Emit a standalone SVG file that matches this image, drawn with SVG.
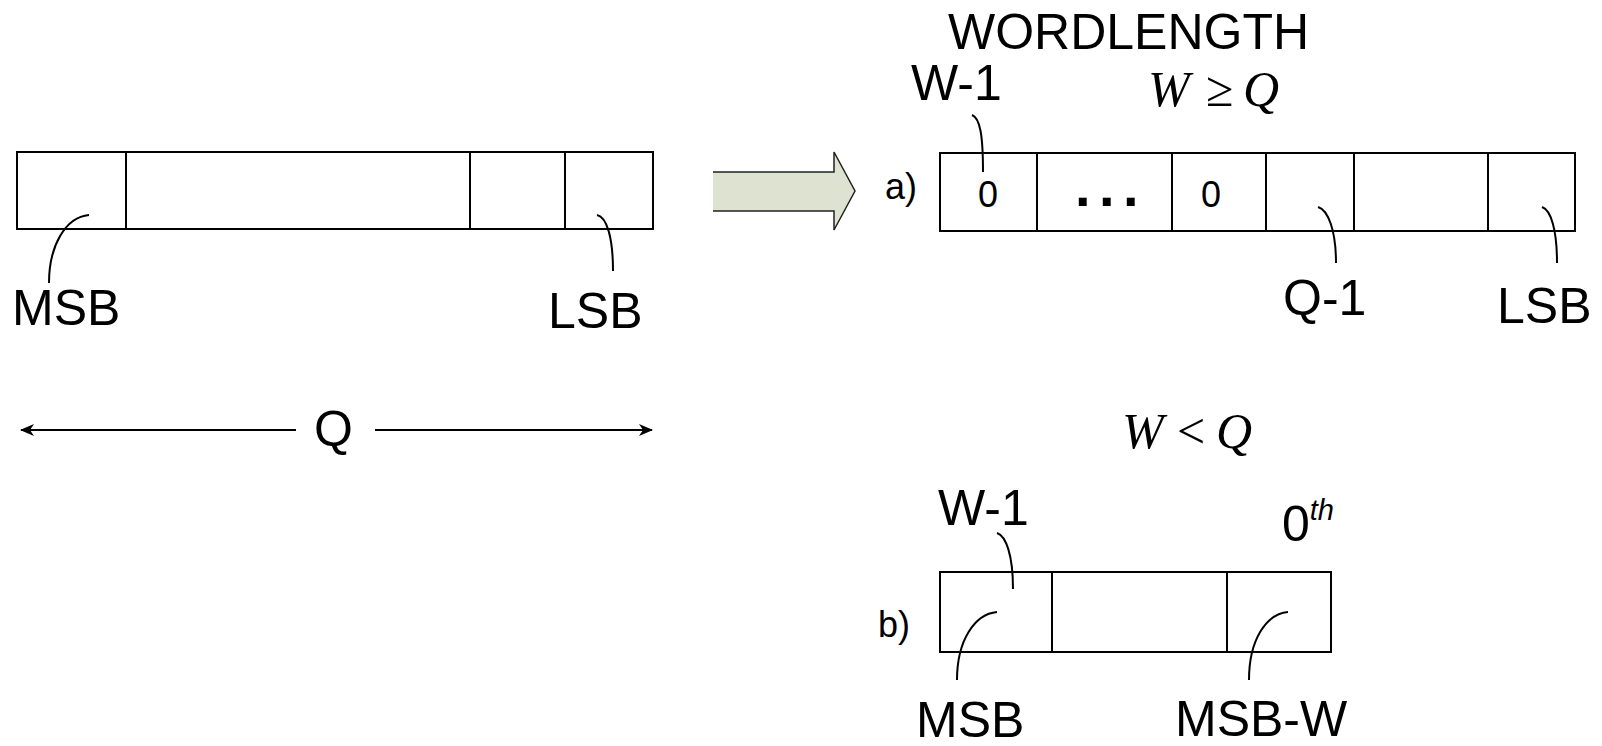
<svg xmlns="http://www.w3.org/2000/svg" width="1602" height="746" viewBox="0 0 1602 746">
<defs>
<style>
.box{fill:none;stroke:#000;stroke-width:2}
.div{stroke:#000;stroke-width:2}
.lead{fill:none;stroke:#000;stroke-width:2}
.lbl{font-family:"Liberation Sans",Arial,sans-serif;font-size:50px;fill:#000}
.sm{font-family:"Liberation Sans",Arial,sans-serif;font-size:36px;fill:#000}
.math{font-family:"Liberation Serif","Times New Roman",serif;font-style:italic;font-size:50px;fill:#000}
.mop{font-family:"Liberation Serif","Times New Roman",serif;font-size:50px;fill:#000}
</style>
<marker id="ah" viewBox="0 0 14 12" refX="13" refY="6" markerWidth="14" markerHeight="12" markerUnits="userSpaceOnUse" orient="auto">
<path d="M0,0 L14,6 L0,12 L4,6 Z" fill="#000"/>
</marker>
</defs>
<rect width="1602" height="746" fill="#fff"/>

<g id="word-q">
<rect class="box" x="17" y="152" width="636" height="77"/>
<line class="div" x1="126" y1="152" x2="126" y2="229"/>
<line class="div" x1="470" y1="152" x2="470" y2="228"/>
<line class="div" x1="565" y1="152" x2="565" y2="229"/>
</g>
<g id="label-msb-left"><text class="lbl" x="12" y="325">MSB</text></g>
<g id="label-lsb-left"><text class="lbl" x="548" y="328">LSB</text></g>
<g id="label-q"><text class="lbl" x="314" y="446">Q</text></g>

<g id="transform-arrow">
<polygon points="713,172 834,172 834,152 855,191 834,230 834,211 713,211" fill="#dee2d0"/>
<polyline points="713,172 834,172 834,152 855,191 834,230 834,211 713,211" fill="none" stroke="#222" stroke-width="1.5"/>
</g>

<g id="title"><text class="lbl" x="948" y="49">WORDLENGTH</text></g>
<g id="cond-a">
<text class="math" x="1148" y="106">W</text>
<text class="mop" x="1206" y="106">≥</text>
<text class="math" x="1243" y="106">Q</text>
</g>
<g id="label-a"><text class="sm" x="885" y="199">a)</text></g>
<g id="word-a">
<rect class="box" x="940" y="153" width="635" height="78"/>
<line class="div" x1="1037" y1="153" x2="1037" y2="231"/>
<line class="div" x1="1172" y1="153" x2="1172" y2="231"/>
<line class="div" x1="1266" y1="153" x2="1266" y2="231"/>
<line class="div" x1="1354" y1="153" x2="1354" y2="231"/>
<line class="div" x1="1488" y1="153" x2="1488" y2="231"/>
<text class="sm" x="988" y="207" text-anchor="middle">0</text>
<text style="font-family:'Liberation Sans',Arial,sans-serif;font-size:56px;font-weight:bold;letter-spacing:8.5px" x="1075" y="206">...</text>
<text class="sm" x="1211" y="207" text-anchor="middle">0</text>
</g>
<g id="label-w1-a"><text class="lbl" x="911" y="100">W-1</text></g>
<g id="label-q1"><text class="lbl" x="1283" y="315">Q-1</text></g>
<g id="label-lsb-a"><text class="lbl" x="1497" y="323">LSB</text></g>

<g id="cond-b">
<text class="math" x="1122" y="448">W</text>
<text class="mop" x="1177" y="448">&lt;</text>
<text class="math" x="1216" y="448">Q</text>
</g>
<g id="label-b"><text class="sm" x="878" y="637">b)</text></g>
<g id="word-b">
<rect class="box" x="940" y="572" width="391" height="80"/>
<line class="div" x1="1052" y1="572" x2="1052" y2="652"/>
<line class="div" x1="1227" y1="572" x2="1227" y2="652"/>
</g>
<g id="label-w1-b"><text class="lbl" x="938" y="525">W-1</text></g>
<g id="label-0th"><text class="lbl" x="1282" y="541">0<tspan style="font-style:italic;font-size:29px" dy="-21">th</tspan></text></g>
<g id="label-msb-b"><text class="lbl" x="916" y="737">MSB</text></g>
<g id="label-msbw"><text class="lbl" x="1175" y="736">MSB-W</text></g>

<g id="connectors">
<path class="lead" d="M89,215 C66,217 49,245 49,283"/>
<path class="lead" d="M597,215 C607,217 613,238 613,271"/>
<line class="lead" x1="296" y1="430" x2="21" y2="430" marker-end="url(#ah)"/>
<line class="lead" x1="375" y1="430" x2="652" y2="430" marker-end="url(#ah)"/>
<path class="lead" d="M972,115 C980,118 983,135 983,172"/>
<path class="lead" d="M1318,207 C1328,210 1336,230 1336,263"/>
<path class="lead" d="M1542,207 C1551,210 1557,230 1557,263"/>
<path class="lead" d="M997,533 C1006,536 1013,555 1013,589"/>
<path class="lead" d="M997,612 C975,614 957,640 957,680"/>
<path class="lead" d="M1288,612 C1266,614 1249,640 1249,680"/>
</g>
</svg>
